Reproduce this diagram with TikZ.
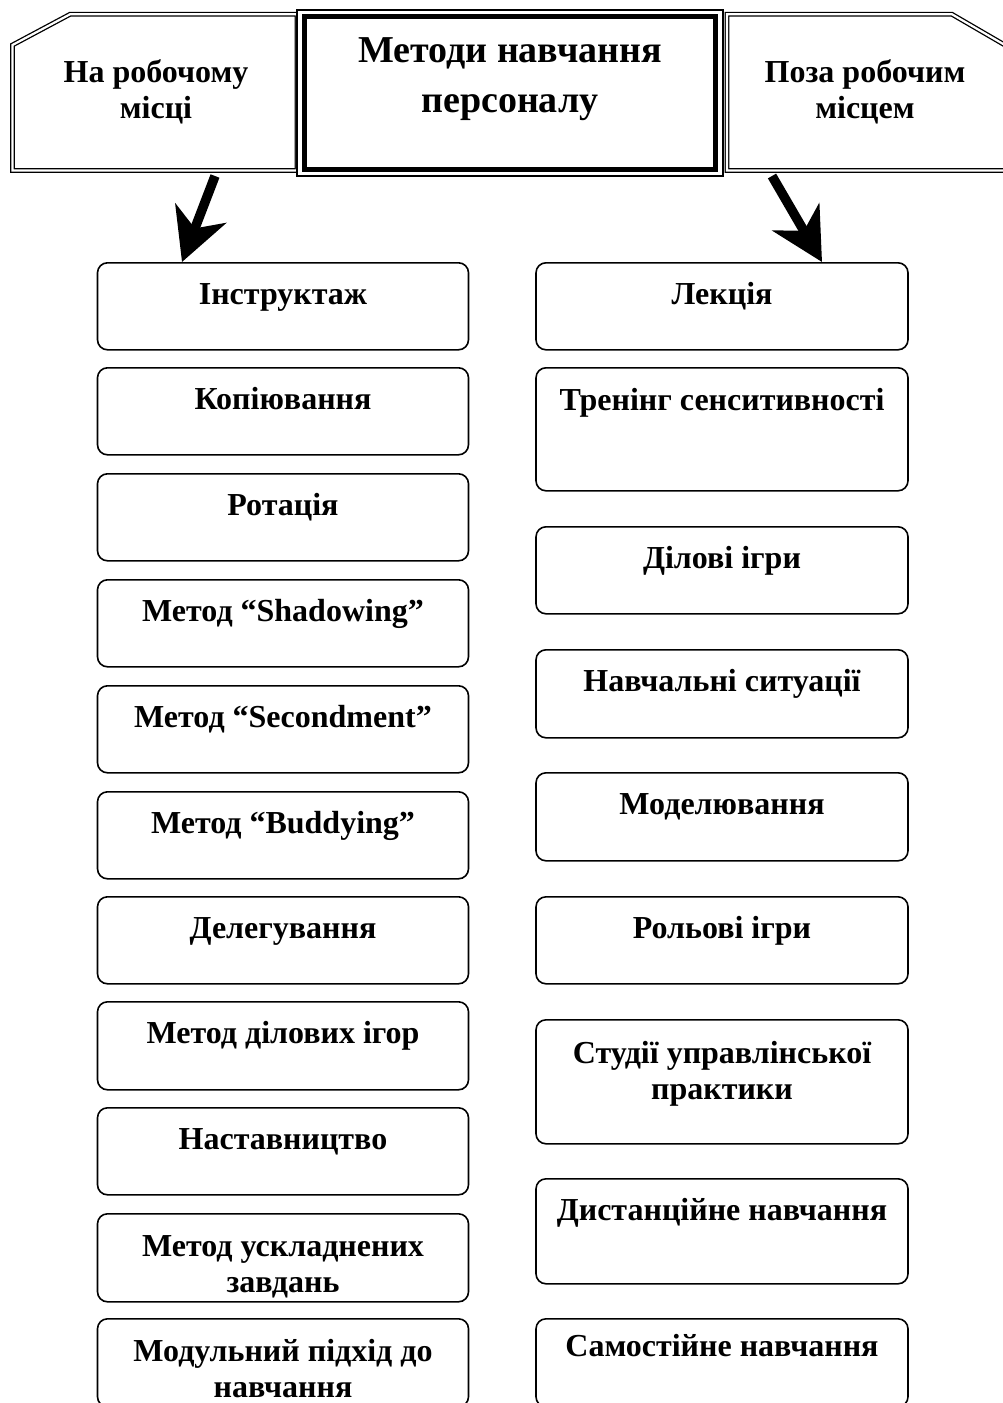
\documentclass[tikz,border=0pt]{standalone}
\usepackage{fontspec}
\setmainfont{Liberation Serif}
\usetikzlibrary{arrows.meta}
\tikzset{
  mbox/.style={draw, line width=1.6pt, rounded corners=10pt, inner sep=0pt, minimum width=371pt},
  lbl/.style={anchor=base, align=center, inner sep=0pt, font=\fontsize{32}{36}\selectfont\bfseries},
  hdr/.style={anchor=base, align=center, inner sep=0pt, font=\fontsize{38}{50}\selectfont\bfseries},
  dbl/.style={draw, line width=1.3pt, double, double distance=2.2pt},
  bigarrow/.style={line width=9.5pt, -{Stealth[length=52pt, width=54pt, inset=16pt]}}
}
\begin{document}
\begin{tikzpicture}[x=1pt, y=-1pt]
\clip (0,0) rectangle (1003,1403);
\fill[white] (0,0) rectangle (1003,1403);
% header
\draw[dbl] (12.5,45) -- (70,14.3) -- (297,14.3) -- (297,170.5) -- (12.5,170.5) -- cycle;
\draw[dbl] (727,14.3) -- (952,14.3) -- (1010,48) -- (1010,170.5) -- (727,170.5) -- cycle;
\draw[line width=1.5pt, fill=white] (297,10) rectangle (723,176);
\draw[line width=5pt] (304.5,16.5) rectangle (715.5,169.5);
\node[hdr] (hc) at (510,112) {Методи навчання\\персоналу};
\node[lbl] (hl) at (156,118) {На робочому\\місці};
\node[lbl] (hr) at (865,118) {Поза робочим\\місцем};
% left column
\foreach \n/\t/\h/\s/\txt in {
  l1/262/87/42/{Інструктаж},
  l2/367/87/42/{Копіювання},
  l3/473/87/42/{Ротація},
  l4/579/87/42/{Метод “Shadowing”},
  l5/685/87/42/{Метод “Secondment”},
  l6/791/87/42/{Метод “Buddying”},
  l7/896/87/42/{Делегування},
  l8/1001/88/42/{Метод ділових ігор},
  l9/1107/87/42/{Наставництво},
  l10/1213/88/79/{Метод ускладнених\\завдань},
  l11/1318/88/79/{Модульний підхід до\\навчання}}{
  \node[mbox, minimum height=\h pt, anchor=north] (\n) at (283,\t) {};
  \node[lbl] (\n t) at ([yshift=-\s pt]\n.north) {\txt};
}
% right column
\foreach \n/\t/\h/\s/\txt in {
  r1/262/87/42/{Лекція},
  r2/367/123/43/{Тренінг сенситивності},
  r3/526/87/42/{Ділові ігри},
  r4/649/88/42/{Навчальні ситуації},
  r5/772/88/42/{Моделювання},
  r6/896/87/42/{Рольові ігри},
  r7/1019/124/80/{Студії управлінської\\практики},
  r8/1178/105/42/{Дистанційне навчання},
  r9/1318/88/38/{Самостійне навчання}}{
  \node[mbox, minimum width=372pt, minimum height=\h pt, anchor=north] (\n) at (722,\t) {};
  \node[lbl] (\n t) at ([yshift=-\s pt]\n.north) {\txt};
}
% arrows
\coordinate (la0) at (215,176);
\coordinate (ra0) at (772,176);
\coordinate (la1) at ([xshift=-101pt]l1.north);
\coordinate (ra1) at ([xshift=100pt]r1.north);
\draw[bigarrow] (la0) -- (la1);
\draw[bigarrow] (ra0) -- (ra1);
\end{tikzpicture}
\end{document}
